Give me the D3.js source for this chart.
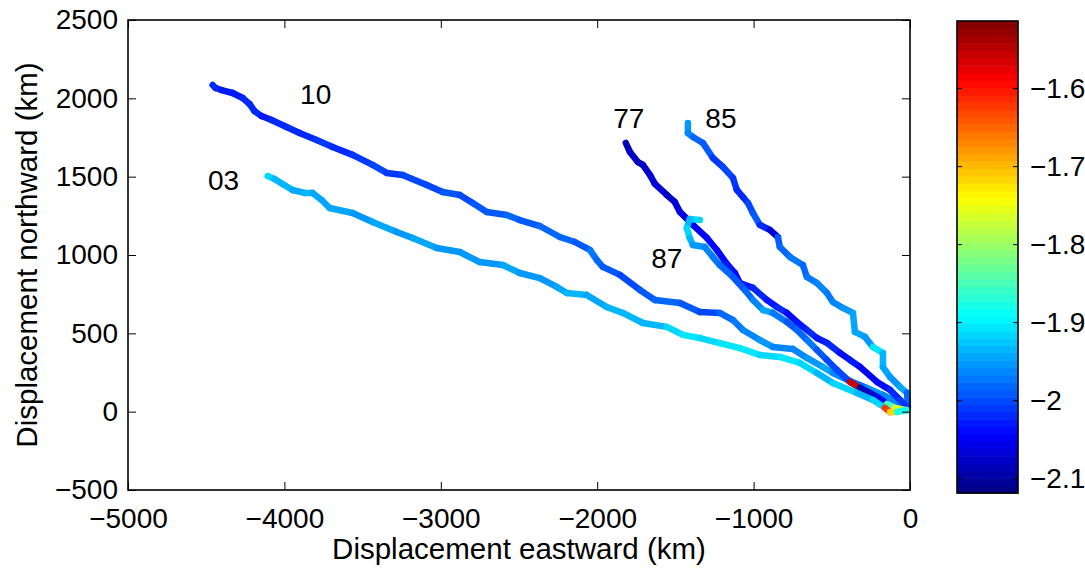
<!DOCTYPE html>
<html>
<head>
<meta charset="utf-8">
<script src="https://cdn.jsdelivr.net/npm/d3@7/dist/d3.min.js"></script>
<style>
  html, body { margin: 0; padding: 0; background: #fff; }
  svg { display: block; font-family: "Liberation Sans", Arial, Helvetica, sans-serif; }
</style>
</head>
<body>
<svg id="chart" width="1085" height="569"></svg>
<script>
// Float trajectories: displacement (km) east / north, coloured by value
const track10X = [-4459,-4440,-4402,-4331,-4267,-4223,-4191,-4146,-4082,-3986,-3903,-3794,-3692,-3564,-3436,-3346,-3244,-3090,-2988,-2879,-2796,-2706,-2578,-2495,-2367,-2239,-2143,-2047,-2002,-1964,-1855,-1727,-1631,-1471,-1344,-1216,-1132,-1068,-960,-877,-749,-659,-557,-493,-384,-275,-173,-64,-19];
const track10Y = [2085,2066,2053,2034,2002,1964,1919,1887,1862,1817,1779,1734,1690,1639,1575,1524,1511,1447,1402,1383,1332,1275,1255,1223,1185,1115,1083,1032,968,924,873,777,713,694,636,630,585,521,457,413,400,343,285,247,196,151,107,49,11];
const track10C = [-2.02,-2.02,-2.03,-2.03,-2.02,-2.02,-2.02,-2.03,-2.02,-2.02,-2.02,-2.01,-2.02,-2.01,-2.00,-2.01,-2.00,-2.00,-1.99,-2.00,-1.99,-1.99,-1.98,-1.99,-1.98,-1.98,-1.99,-1.97,-1.98,-1.99,-2.00,-1.99,-1.98,-1.99,-2.00,-1.98,-1.97,-1.96,-1.95,-1.96,-1.96,-1.95,-1.94,-1.96,-1.98,-1.95,-1.96,-1.97,-1.97];

const track03X = [-4107,-4063,-4012,-3948,-3871,-3820,-3762,-3711,-3564,-3436,-3282,-3180,-3026,-2879,-2751,-2604,-2495,-2367,-2258,-2194,-2067,-1939,-1836,-1708,-1555,-1452,-1344,-1216,-1088,-960,-832,-704,-595,-493,-339,-237,-160,-128,-83,-19];
const track03Y = [1504,1485,1453,1415,1396,1396,1351,1300,1268,1211,1147,1109,1045,1019,955,936,885,853,796,757,745,668,630,566,541,490,470,438,406,362,349,311,247,183,119,75,24,-2,-2,11];
const track03C = [-1.92,-1.93,-1.93,-1.94,-1.93,-1.94,-1.94,-1.94,-1.95,-1.94,-1.95,-1.94,-1.95,-1.95,-1.95,-1.94,-1.95,-1.95,-1.94,-1.93,-1.94,-1.93,-1.93,-1.93,-1.92,-1.91,-1.92,-1.91,-1.91,-1.92,-1.91,-1.92,-1.93,-1.92,-1.93,-1.92,-1.62,-1.72,-1.88,-1.90];

const track77X = [-1817,-1791,-1740,-1708,-1663,-1631,-1555,-1504,-1471,-1388,-1299,-1235,-1171,-1120,-1088,-1004,-915,-851,-787,-723,-659,-595,-531,-448,-384,-320,-211,-128,-64,-19];
const track77Y = [1715,1658,1594,1575,1511,1454,1383,1339,1275,1192,1109,1032,943,885,821,790,713,668,630,573,521,470,439,375,330,286,190,139,75,30];
const track77C = [-2.09,-2.08,-2.09,-2.08,-2.07,-2.07,-2.08,-2.07,-2.06,-2.05,-2.04,-2.04,-2.03,-2.04,-2.03,-2.02,-2.03,-2.02,-2.04,-2.03,-2.02,-2.03,-2.02,-2.04,-2.03,-2.05,-2.04,-2.02,-2.01,-2.01];

const track85X = [-1420,-1420,-1388,-1324,-1260,-1196,-1132,-1107,-1068,-1036,-1004,-960,-896,-845,-832,-768,-685,-659,-595,-531,-493,-429,-365,-352,-288,-237,-173,-173,-128,-64,-19,-13];
const track85Y = [1842,1778,1753,1715,1619,1562,1492,1415,1370,1332,1268,1192,1160,1115,1051,988,936,860,821,758,700,662,630,509,477,413,375,285,222,158,120,30];
const track85C = [-1.95,-1.96,-1.98,-1.99,-2.01,-2.00,-2.01,-2.02,-2.02,-2.00,-1.99,-2.02,-2.07,-1.99,-1.98,-1.97,-1.98,-1.97,-1.96,-1.97,-1.96,-1.95,-1.94,-1.94,-1.95,-1.91,-1.93,-1.94,-1.95,-1.94,-1.98,-1.98];

const track87X = [-1344,-1408,-1427,-1408,-1388,-1312,-1260,-1216,-1132,-1056,-1004,-940,-877,-787,-723,-659,-595,-531,-467,-384,-320,-269,-211,-147,-96,-32];
const track87Y = [1223,1230,1172,1108,1064,1051,987,936,860,777,713,649,630,573,521,458,394,330,266,190,151,126,94,49,24,11];
const track87C = [-1.92,-1.93,-1.92,-1.93,-1.95,-1.96,-1.97,-1.98,-1.99,-1.98,-1.96,-1.94,-1.97,-1.99,-1.98,-1.97,-1.99,-2.00,-2.00,-1.56,-2.09,-2.08,-2.05,-1.85,-1.76,-1.76];

// Labels of the five floats (placed in data units)
const trackNames  = ["10", "03", "77", "85", "87"];
const trackLabelX = [-3800, -4389, -1798, -1209, -1555];
const trackLabelY = [2027, 1478, 1874, 1874, 980];

// Axis ticks
const xTicks = [-5000, -4000, -3000, -2000, -1000, 0];
const yTicks = [-500, 0, 500, 1000, 1500, 2000, 2500];
const cTicks = [-2.1, -2, -1.9, -1.8, -1.7, -1.6];
const colorLimits = [-2.119, -1.514];

// ---------------------------------------------------------------
const svg = d3.select("#chart");
const FS = 28;
const TFS = 29.5;
const plot = { left: 128, right: 910, top: 20, bottom: 490 };
const cbar = { left: 957, right: 1018, top: 21, bottom: 493 };

const x = d3.scaleLinear().domain([-5000, 0]).range([plot.left, plot.right]);
const y = d3.scaleLinear().domain([-500, 2500]).range([plot.bottom, plot.top]);
const cY = d3.scaleLinear().domain(colorLimits).range([cbar.bottom, cbar.top]);

// 64-level jet colormap
function jet(v) {
  const t = (v - colorLimits[0]) / (colorLimits[1] - colorLimits[0]);
  const k = Math.min(63, Math.max(0, Math.floor(t * 64)));
  const u = (k + 0.5) / 64;
  const cl = a => Math.max(0, Math.min(1, a));
  const r = cl(1.5 - Math.abs(4 * u - 3));
  const g = cl(1.5 - Math.abs(4 * u - 2));
  const b = cl(1.5 - Math.abs(4 * u - 1));
  return d3.rgb(r * 255, g * 255, b * 255).toString();
}

// Tracks, drawn as coloured segments
const tracks = [
  { xs: track10X, ys: track10Y, cs: track10C },
  { xs: track85X, ys: track85Y, cs: track85C },
  { xs: track77X, ys: track77Y, cs: track77C },
  { xs: track87X, ys: track87Y, cs: track87C },
  { xs: track03X, ys: track03Y, cs: track03C }
];

const gTracks = svg.append("g");
tracks.forEach(tr => {
  const segs = d3.range(tr.xs.length - 1).map(i => ({
    x1: tr.xs[i], y1: tr.ys[i], x2: tr.xs[i + 1], y2: tr.ys[i + 1], c: tr.cs[i]
  }));
  gTracks.append("g").selectAll("line").data(segs).join("line")
    .attr("x1", d => x(d.x1)).attr("y1", d => y(d.y1))
    .attr("x2", d => x(d.x2)).attr("y2", d => y(d.y2))
    .attr("stroke", d => jet(d.c))
    .attr("stroke-width", 6.5)
    .attr("stroke-linecap", "round");
});

// Float labels
svg.append("g").selectAll("text").data(trackNames).join("text")
  .attr("x", (d, i) => x(trackLabelX[i]))
  .attr("y", (d, i) => y(trackLabelY[i]))
  .attr("dy", "0.36em")
  .attr("text-anchor", "middle")
  .attr("font-size", FS)
  .text(d => d);

// Axes with inward ticks, boxed
const fmt = d3.format("");
const axB = svg.append("g").attr("transform", `translate(0,${plot.bottom})`)
  .call(d3.axisBottom(x).tickValues(xTicks).tickFormat(fmt).tickSize(-8).tickSizeOuter(0).tickPadding(18));
const axT = svg.append("g").attr("transform", `translate(0,${plot.top})`)
  .call(d3.axisTop(x).tickValues(xTicks).tickFormat("").tickSize(-8).tickSizeOuter(0));
const axL = svg.append("g").attr("transform", `translate(${plot.left},0)`)
  .call(d3.axisLeft(y).tickValues(yTicks).tickFormat(fmt).tickSize(-8).tickSizeOuter(0).tickPadding(10));
const axR = svg.append("g").attr("transform", `translate(${plot.right},0)`)
  .call(d3.axisRight(y).tickValues(yTicks).tickFormat("").tickSize(-8).tickSizeOuter(0));

[axB, axT, axL, axR].forEach(a => {
  a.select(".domain").remove();
  a.selectAll(".tick line").attr("stroke", "#000").attr("stroke-width", 1);
  a.selectAll("text").attr("font-size", FS).attr("fill", "#000")
    .attr("font-family", "Liberation Sans, Arial, sans-serif");
});

svg.append("rect")
  .attr("x", plot.left).attr("y", plot.top)
  .attr("width", plot.right - plot.left).attr("height", plot.bottom - plot.top)
  .attr("fill", "none").attr("stroke", "#000").attr("stroke-width", 1.6);

// Axis titles
svg.append("text")
  .attr("x", (plot.left + plot.right) / 2).attr("y", 559)
  .attr("text-anchor", "middle").attr("font-size", TFS)
  .text("Displacement eastward (km)");
svg.append("text")
  .attr("transform", `translate(37,${(plot.top + plot.bottom) / 2}) rotate(-90)`)
  .attr("text-anchor", "middle").attr("font-size", TFS)
  .text("Displacement northward (km)");

// Colorbar
const nLev = 64;
const levels = d3.range(nLev).map(k => colorLimits[0] + (k + 0.5) / nLev * (colorLimits[1] - colorLimits[0]));
const step = (colorLimits[1] - colorLimits[0]) / nLev;
svg.append("g").selectAll("rect").data(levels).join("rect")
  .attr("x", cbar.left)
  .attr("y", d => cY(d + step / 2))
  .attr("width", cbar.right - cbar.left)
  .attr("height", d => cY(d - step / 2) - cY(d + step / 2) + 0.6)
  .attr("fill", d => jet(d));

const cfmt = d => d3.format("")(d);
const cAxR = svg.append("g").attr("transform", `translate(${cbar.right},0)`)
  .call(d3.axisRight(cY).tickValues(cTicks).tickFormat(cfmt).tickSize(-5).tickSizeOuter(0).tickPadding(12));
const cAxL = svg.append("g").attr("transform", `translate(${cbar.left},0)`)
  .call(d3.axisLeft(cY).tickValues(cTicks).tickFormat("").tickSize(-5).tickSizeOuter(0));
[cAxR, cAxL].forEach(a => {
  a.select(".domain").remove();
  a.selectAll(".tick line").attr("stroke", "#000").attr("stroke-width", 1);
  a.selectAll("text").attr("font-size", FS).attr("fill", "#000")
    .attr("font-family", "Liberation Sans, Arial, sans-serif");
});
svg.append("rect")
  .attr("x", cbar.left).attr("y", cbar.top)
  .attr("width", cbar.right - cbar.left).attr("height", cbar.bottom - cbar.top)
  .attr("fill", "none").attr("stroke", "#000").attr("stroke-width", 1.6);
</script>
</body>
</html>
